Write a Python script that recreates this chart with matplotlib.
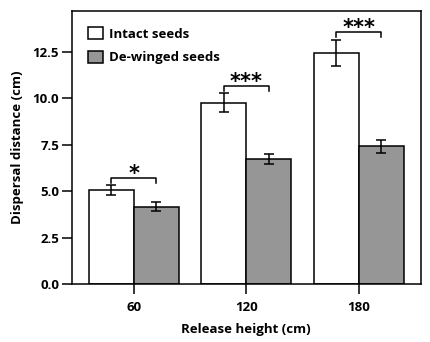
import matplotlib
matplotlib.use("Agg")
import matplotlib.pyplot as plt
import numpy as np
from matplotlib.patches import Patch

plt.rcParams['font.family'] = ['Open Sans', 'DejaVu Sans']
plt.rcParams['font.weight'] = 'bold'

heights = ["60", "120", "180"]
intact = [5.04, 9.75, 12.44]
intact_err = [0.27, 0.51, 0.71]
dewinged = [4.16, 6.72, 7.40]
dewinged_err = [0.24, 0.27, 0.37]
signif = ["*", "***", "***"]
series_labels = ["Intact seeds", "De-winged seeds"]
y_ticks = [0.0, 2.5, 5.0, 7.5, 10.0, 12.5]

FS = 9.5

fig = plt.figure(figsize=(4.30, 3.42), dpi=100)
ax = fig.add_axes([0.1663, 0.1696, 0.979 - 0.1663, 0.9687 - 0.1696])

x = np.arange(len(heights))
w = 0.4
lw = 1.1
ax.bar(x, intact, width=-w, align='edge', color='white', edgecolor='black', linewidth=lw, zorder=2)
ax.bar(x, dewinged, width=w, align='edge', color='#969696', edgecolor='black', linewidth=lw, zorder=2)
ax.errorbar(x - w / 2, intact, yerr=intact_err, fmt='none', ecolor='black', elinewidth=lw,
            capsize=3.8, capthick=lw, zorder=3)
ax.errorbar(x + w / 2, dewinged, yerr=dewinged_err, fmt='none', ecolor='black', elinewidth=lw,
            capsize=3.8, capthick=lw, zorder=3)

for i in range(len(heights)):
    top = max(intact[i] + intact_err[i], dewinged[i] + dewinged_err[i])
    yb = top + 0.38
    x1, x2 = x[i] - w / 2, x[i] + w / 2
    ax.plot([x1, x1, x2, x2], [yb - 0.24, yb, yb, yb - 0.24], color='black', lw=lw, zorder=3)
    ax.annotate(signif[i], xy=((x1 + x2) / 2, yb), xytext=(0, -4), textcoords='offset points',
                ha='center', va='bottom', fontsize=15, fontweight='bold',
                family=['DejaVu Sans'])

ax.set_xlim(-0.555, 2.555)
ax.set_ylim(0, 14.7)
ax.set_xticks(x)
ax.set_xticklabels(heights)
ax.set_yticks(y_ticks)
ax.set_yticklabels([f"{v:.1f}" for v in y_ticks])
ax.tick_params(axis='both', direction='out', length=7, width=lw, labelsize=FS)
ax.tick_params(axis='x', pad=5)
ax.tick_params(axis='y', pad=2)
for s in ax.spines.values():
    s.set_linewidth(lw)

ax.set_xlabel("Release height (cm)", fontsize=FS, fontweight='bold', labelpad=7)
ax.set_ylabel("Dispersal distance (cm)", fontsize=FS, fontweight='bold', labelpad=6)

handles = [Patch(facecolor='white', edgecolor='black', linewidth=lw),
           Patch(facecolor='#969696', edgecolor='black', linewidth=lw)]
ax.legend(handles, series_labels, loc='upper left', frameon=False,
          handlelength=1.15, handleheight=1.05, handletextpad=0.45, labelspacing=0.75,
          borderaxespad=0.85, prop={'weight': 'bold', 'size': FS})

fig.savefig("out.png", dpi=100)
